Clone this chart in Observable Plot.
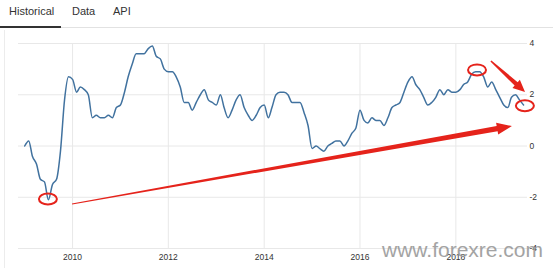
<!DOCTYPE html>
<html>
<head>
<meta charset="utf-8">
<script src="https://cdn.jsdelivr.net/npm/d3@7"></script>
<script src="https://cdn.jsdelivr.net/npm/@observablehq/plot@0.6"></script>
<style>
  html, body { margin: 0; padding: 0; background: #fff; }
  #wrap { position: relative; width: 553px; height: 268px; overflow: hidden; font-family: "Liberation Sans", Arial, sans-serif; }
  .tab { position: absolute; top: 5px; font-size: 11px; color: #333; }
  #underline { position: absolute; left: 0; top: 26px; width: 61px; height: 2px; background: #333; }
  #rule { position: absolute; left: 0; top: 27px; width: 553px; height: 1px; background: #e2e2e2; }
  #leftline { position: absolute; left: 4px; top: 30px; width: 1px; height: 238px; background: #ececec; }
  #chart { position: absolute; left: 0; top: 30px; }
  #wm { position: absolute; left: 382px; top: 238px; font-size: 21px; color: #9a9a9a; opacity: 0.9; }
</style>
</head>
<body>
<div id="wrap">
  <div class="tab" style="left:9px">Historical</div>
  <div class="tab" style="left:72px">Data</div>
  <div class="tab" style="left:113px">API</div>
  <div id="rule"></div>
  <div id="underline"></div>
  <div id="leftline"></div>
  <div id="chart"></div>
  <div id="wm">www.forexre.com</div>
</div>
<script>
// Monthly inflation rate (%), Jan 2009 – Jun 2019
const startYear = 2009;
const cpi2009 = [0.0, 0.2, -0.4, -0.7, -1.3, -1.4, -2.1, -1.5, -1.3, -0.2, 1.8, 2.7];
const cpi2010 = [2.6, 2.1, 2.3, 2.2, 2.0, 1.1, 1.2, 1.1, 1.1, 1.2, 1.1, 1.5];
const cpi2011 = [1.6, 2.1, 2.7, 3.2, 3.6, 3.6, 3.6, 3.8, 3.9, 3.5, 3.4, 3.0];
const cpi2012 = [2.9, 2.9, 2.7, 2.3, 1.7, 1.7, 1.4, 1.7, 2.0, 2.2, 1.8, 1.7];
const cpi2013 = [1.6, 2.0, 1.5, 1.1, 1.4, 1.8, 2.0, 1.5, 1.2, 1.0, 1.2, 1.5];
const cpi2014 = [1.6, 1.1, 1.5, 2.0, 2.1, 2.1, 2.0, 1.7, 1.7, 1.7, 1.3, 0.8];
const cpi2015 = [-0.1, 0.0, -0.1, -0.2, 0.0, 0.1, 0.2, 0.2, 0.0, 0.2, 0.5, 0.7];
const cpi2016 = [1.4, 1.0, 0.9, 1.1, 1.0, 1.0, 0.8, 1.1, 1.5, 1.6, 1.7, 2.1];
const cpi2017 = [2.5, 2.7, 2.4, 2.2, 1.9, 1.6, 1.7, 1.9, 2.2, 2.0, 2.2, 2.1];
const cpi2018 = [2.1, 2.2, 2.4, 2.5, 2.8, 2.9, 2.9, 2.7, 2.3, 2.5, 2.2, 1.9];
const cpi2019 = [1.6, 1.5, 1.9, 2.0, 1.8, 1.6];

const xTickLabels = ["2010", "2012", "2014", "2016", "2018"];
const yTickValues = [-4, -2, 0, 2, 4];

// Annotation anchors in data space (date, value)
const circleMarks = [
  {date: "2009-07-01", value: -2.09},
  {date: "2018-06-15", value: 2.95},
  {date: "2019-06-15", value: 1.55}
];
const arrowMarks = [
  {from: "2010-01-01", fromValue: -2.28, to: "2019-03-08", toValue: 0.76, kind: "long"},
  {from: "2018-09-29", fromValue: 3.30, to: "2019-06-16", toValue: 2.09, kind: "short"}
];

const yearly = [cpi2009, cpi2010, cpi2011, cpi2012, cpi2013, cpi2014, cpi2015, cpi2016, cpi2017, cpi2018, cpi2019];
const series = yearly.flatMap((arr, yi) => arr.map((v, m) => ({date: new Date(Date.UTC(startYear + yi, m, 1)), value: v})));

const RED = "#e5231b";
const arrowStyle = {
  long: {w0: 1, w1: 5.5, head: 15, hw: 12},
  short: {w0: 1.5, w1: 4.5, head: 12, hw: 11}
};

function arrowsMark(index, scales) {
  const g = d3.create("svg:g");
  for (const a of arrowMarks) {
    const s = arrowStyle[a.kind];
    const X1 = scales.x(new Date(a.from)), Y1 = scales.y(a.fromValue);
    const X2 = scales.x(new Date(a.to)), Y2 = scales.y(a.toValue);
    const dx = X2 - X1, dy = Y2 - Y1, L = Math.hypot(dx, dy);
    const ux = dx / L, uy = dy / L, nx = -uy, ny = ux;
    const bx = X2 - ux * s.head, by = Y2 - uy * s.head;
    const pts = [
      [X1 + nx * s.w0 / 2, Y1 + ny * s.w0 / 2],
      [bx + nx * s.w1 / 2, by + ny * s.w1 / 2],
      [bx + nx * s.hw / 2, by + ny * s.hw / 2],
      [X2, Y2],
      [bx - nx * s.hw / 2, by - ny * s.hw / 2],
      [bx - nx * s.w1 / 2, by - ny * s.w1 / 2],
      [X1 - nx * s.w0 / 2, Y1 - ny * s.w0 / 2]
    ];
    g.append("path").attr("d", "M" + pts.map(p => p.join(",")).join("L") + "Z").attr("fill", RED);
  }
  return g.node();
}

function circlesMark(index, scales) {
  const g = d3.create("svg:g");
  for (const c of circleMarks) {
    g.append("ellipse")
      .attr("cx", scales.x(new Date(c.date)))
      .attr("cy", scales.y(c.value))
      .attr("rx", 9).attr("ry", 5.5)
      .attr("fill", "none").attr("stroke", RED).attr("stroke-width", 2);
  }
  return g.node();
}

const xTicks = xTickLabels.map(t => new Date(Date.UTC(+t, 0, 1)));

const chart = Plot.plot({
  width: 553,
  height: 238,
  marginLeft: 18,
  marginRight: 26,
  marginTop: 13,
  marginBottom: 20,
  style: {fontFamily: "'Liberation Sans', Arial, sans-serif", fontSize: "8.5px", color: "#333", background: "transparent"},
  x: {type: "utc", domain: [new Date(Date.UTC(2008, 10, 15)), new Date(Date.UTC(2019, 6, 1))], label: null},
  y: {domain: [-4, 4], label: null},
  marks: [
    Plot.gridX(xTicks, {stroke: "#e8e8e8", strokeOpacity: 1}),
    Plot.gridY(yTickValues, {stroke: "#e8e8e8", strokeOpacity: 1}),
    Plot.axisX(xTicks, {tickSize: 0, tickPadding: 5, tickFormat: d => String(d.getUTCFullYear()), fill: "#333", label: null}),
    Plot.axisY(yTickValues, {anchor: "right", tickSize: 0, tickPadding: 2, tickFormat: d => String(d), fill: "#333", label: null}),
    Plot.line(series, {x: "date", y: "value", stroke: "#41729f", strokeWidth: 1.5, curve: "monotone-x"}),
    arrowsMark,
    circlesMark
  ]
});
document.getElementById("chart").appendChild(chart);
</script>
</body>
</html>
